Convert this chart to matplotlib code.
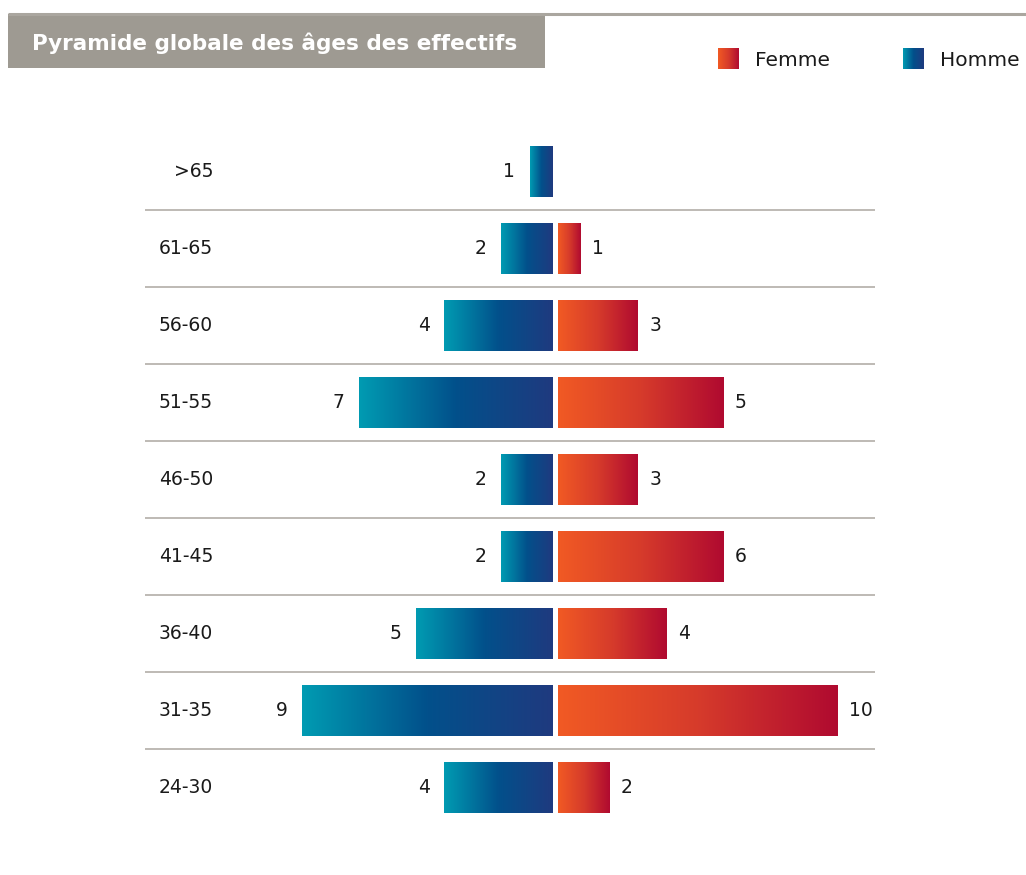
import numpy as np
import matplotlib
matplotlib.use("Agg")
import matplotlib.pyplot as plt
from matplotlib.colors import LinearSegmentedColormap
from matplotlib.transforms import blended_transform_factory

# data, top row first
tranches = [">65", "61-65", "56-60", "51-55", "46-50", "41-45", "36-40", "31-35", "24-30"]
hommes = [1, 2, 4, 7, 2, 2, 5, 9, 4]
femmes = [0, 1, 3, 6, 3, 6, 4, 10, 2]          # bar lengths as drawn
femmes_labels = ["", "1", "3", "5", "3", "6", "4", "10", "2"]

W, H = 1026, 875
plt.rcParams["font.family"] = ["DejaVu Sans"]
fig = plt.figure(figsize=(W / 100, H / 100), dpi=100)

cmap_h = LinearSegmentedColormap.from_list("h", ["#009bb2", "#02508b", "#1f3a7f"])
cmap_f = LinearSegmentedColormap.from_list("f", ["#f15a24", "#d63b2b", "#b00a30"])
grad = np.linspace(0, 1, 256).reshape(1, -1)
txt = "#1a1a1a"
fs = 13.5

# main axes, placed in pixels
x0, x1, y0, y1 = 145, 875, 120, 830
ax = fig.add_axes([x0 / W, 1 - y1 / H, (x1 - x0) / W, (y1 - y0) / H])
px = 28.5            # pixels per unit
c = 555.25           # centre pixel
g = 2.75 / px        # half gap
xlim = ((x0 - c) / px, (x1 - c) / px)
rowpx = 77.1
ylim = ((y1 - 171) / rowpx, (y0 - 171) / rowpx)
ypos = np.arange(len(tranches))
bh = 51 / rowpx


def grad_fill(bars, cmap):
    for b in bars:
        if b.get_width() == 0:
            continue
        bx0, by0 = b.get_x(), b.get_y()
        bx1, by1 = bx0 + b.get_width(), by0 + b.get_height()
        im = ax.imshow(grad, cmap=cmap, aspect="auto",
                       extent=[min(bx0, bx1), max(bx0, bx1), by1, by0],
                       interpolation="bilinear", zorder=2)
        im.set_clip_path(b)


hw = [max(v - 2 * g, 0) if v else 0 for v in hommes]
fw = [max(v - 2 * g, 0) if v else 0 for v in femmes]
bars_h = ax.barh(ypos, [-w for w in hw], left=-g, height=bh, color="none", lw=0)
bars_f = ax.barh(ypos, fw, left=g, height=bh, color="none", lw=0)
grad_fill(bars_h, cmap_h)
grad_fill(bars_f, cmap_f)

for i, v in enumerate(hommes):
    ax.text(-v - 0.4, i, str(v), ha="right", va="center", fontsize=fs, color=txt)
for i, (v, lab) in enumerate(zip(femmes, femmes_labels)):
    if lab:
        ax.text(v + 0.3, i, lab, ha="left", va="center", fontsize=fs, color=txt)

tr = blended_transform_factory(ax.transAxes, ax.transData)
for i, lab in enumerate(tranches):
    ax.text((213 - x0) / (x1 - x0), i, lab, transform=tr, ha="right", va="center",
            fontsize=fs, color=txt)

for i in range(len(tranches) - 1):
    ax.axhline(i + 0.5, color="#b3aea8", lw=1.2, zorder=1)

ax.set_xlim(*xlim)
ax.set_ylim(*ylim)
ax.axis("off")

# header and legend on an overlay in pixel coordinates
ov = fig.add_axes([0, 0, 1, 1], zorder=-1)
ov.set_xlim(0, W)
ov.set_ylim(H, 0)
ov.axis("off")
ov.plot([8, W], [13.5, 13.5], color="#aaa69f", lw=2.2, solid_capstyle="butt")
ov.add_patch(plt.Rectangle((8, 14), 537, 54, color="#9e9a92", lw=0))
ov.text(32, 43, "Pyramide globale des âges des effectifs", color="white",
        fontsize=15.5, fontweight="bold", va="center", ha="left")

leg = [("Femme", cmap_f, 718), ("Homme", cmap_h, 903)]
for name, cm, lx in leg:
    ov.imshow(grad, cmap=cm, aspect="auto", extent=[lx, lx + 21, 69, 48],
              interpolation="bilinear")
    ov.text(lx + 37, 61, name, fontsize=14.5, color=txt, va="center", ha="left")
ov.set_xlim(0, W)
ov.set_ylim(H, 0)

fig.savefig("out.png", dpi=100, facecolor="white")
